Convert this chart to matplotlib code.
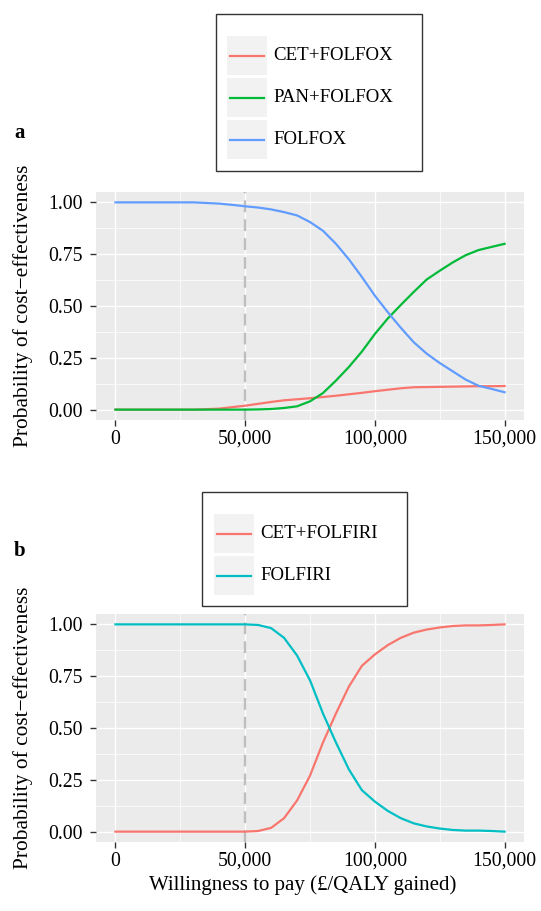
import matplotlib
matplotlib.use("Agg")
import matplotlib.pyplot as plt
from matplotlib.patches import Rectangle
from matplotlib.lines import Line2D
from matplotlib.ticker import FuncFormatter, MultipleLocator

#------------------------- Data ------------------------------
wtp = [0, 5000, 10000, 15000, 20000, 25000, 30000, 35000, 40000, 45000, 50000,
       55000, 60000, 65000, 70000, 75000, 80000, 85000, 90000, 95000, 100000,
       105000, 110000, 115000, 120000, 125000, 130000, 135000, 140000, 145000, 150000]

# panel a
cetFolfox = [0, 0, 0, 0, 0, 0, 0, 0.002, 0.005, 0.012, 0.019,
             0.028, 0.037, 0.045, 0.050, 0.055, 0.061, 0.067, 0.074, 0.081, 0.089,
             0.096, 0.103, 0.108, 0.109, 0.110, 0.111, 0.112, 0.113, 0.113, 0.114]
panFolfox = [0, 0, 0, 0, 0, 0, 0, 0, 0, 0, 0,
             0.001, 0.003, 0.008, 0.016, 0.040, 0.080, 0.140, 0.206, 0.280, 0.365,
             0.440, 0.505, 0.568, 0.628, 0.670, 0.710, 0.745, 0.770, 0.785, 0.800]
folfox = [1.0, 1.0, 1.0, 1.0, 1.0, 1.0, 1.0, 0.997, 0.994, 0.988, 0.981,
          0.975, 0.966, 0.953, 0.937, 0.905, 0.863, 0.800, 0.725, 0.640, 0.550,
          0.470, 0.395, 0.325, 0.270, 0.225, 0.185, 0.145, 0.115, 0.100, 0.084]

# panel b
cetFolfiri = [0, 0, 0, 0, 0, 0, 0, 0, 0, 0, 0,
              0.003, 0.018, 0.065, 0.150, 0.270, 0.430, 0.570, 0.700, 0.800, 0.855,
              0.900, 0.935, 0.960, 0.975, 0.985, 0.992, 0.995, 0.995, 0.997, 1.0]
folfiri = [1.0, 1.0, 1.0, 1.0, 1.0, 1.0, 1.0, 1.0, 1.0, 1.0, 1.0,
           0.997, 0.982, 0.935, 0.850, 0.730, 0.570, 0.430, 0.300, 0.200, 0.145,
           0.100, 0.065, 0.040, 0.025, 0.015, 0.008, 0.005, 0.005, 0.003, 0.0]

labelsA = ["CET+FOLFOX", "PAN+FOLFOX", "FOLFOX"]
labelsB = ["CET+FOLFIRI", "FOLFIRI"]
colorsA = ["#F8766D", "#00BA38", "#619CFF"]
colorsB = ["#F8766D", "#00BFC4"]

threshold = 50000
xTicks = [0, 50000, 100000, 150000]
yTicks = [0, 0.25, 0.5, 0.75, 1.0]

#------------------------- Style ------------------------------
W, H = 541, 911
plt.rcParams['font.family'] = ['Liberation Serif', 'DejaVu Serif']
FS = 14.2

def px(x, y):
    return x / W, 1 - y / H

def styleAxes(ax):
    ax.set_facecolor("#EBEBEB")
    ax.set_xlim(-7500, 157500)
    ax.set_ylim(-0.05, 1.05)
    ax.set_xticks(xTicks)
    ax.set_yticks(yTicks)
    ax.xaxis.set_minor_locator(MultipleLocator(25000))
    ax.yaxis.set_minor_locator(MultipleLocator(0.125))
    ax.xaxis.set_major_formatter(FuncFormatter(lambda v, p: f"{int(v):,}"))
    ax.yaxis.set_major_formatter(FuncFormatter(lambda v, p: f"{v:.2f}"))
    ax.grid(which='major', color='white', linewidth=1.0)
    ax.grid(which='minor', color='white', linewidth=0.5)
    ax.set_axisbelow(True)
    for s in ax.spines.values():
        s.set_visible(False)
    ax.tick_params(which='major', length=4.5, width=1.0, color='#333333',
                   labelsize=FS, labelcolor='black')
    ax.tick_params(axis='x', pad=2.5)
    ax.tick_params(axis='y', pad=5)
    ax.tick_params(which='minor', length=0)
    ax.set_ylabel("Probability of cost\u2212effectiveness", fontsize=15.4)
    ax.yaxis.set_label_coords(-0.147, 0.5)
    ax.axvline(threshold, color='#BEBEBE', linewidth=1.7, dashes=(5, 3), zorder=1.5)

# ggplot-like legend box: white frame, grey key squares, line keys
def drawLegend(fig, lines, labels, box, keyTopLeft):
    x0, y0, x1, y1 = box
    fig.add_artist(Rectangle(px(x0, y1), (x1 - x0) / W, (y1 - y0) / H,
                             transform=fig.transFigure, facecolor='white',
                             edgecolor='#333333', linewidth=1.0, zorder=0))
    kx, ky = keyTopLeft
    keyW, keyH, step = 40, 39, 42
    for i, (ln, lab) in enumerate(zip(lines, labels)):
        top = ky + i * step
        fig.add_artist(Rectangle(px(kx, top + keyH), keyW / W, keyH / H,
                                 transform=fig.transFigure, facecolor='#F2F2F2',
                                 edgecolor='none', zorder=1))
        cy = top + keyH / 2
        fig.add_artist(Line2D([(kx + 3) / W, (kx + keyW - 3) / W], [1 - cy / H] * 2,
                              transform=fig.transFigure, color=ln.get_color(),
                              linewidth=ln.get_linewidth(), zorder=2))
        fig.text((kx + keyW + 6) / W, 1 - cy / H, lab, fontsize=13.6,
                 va='center', ha='left')

fig = plt.figure(figsize=(W / 100, H / 100), dpi=100)

#------------------------- Panel a ------------------------------
axA = fig.add_axes([96 / W, 1 - 420 / H, 428 / W, 228 / H])
styleAxes(axA)
linesA = []
for series, c in zip([cetFolfox, panFolfox, folfox], colorsA):
    ln, = axA.plot(wtp, series, color=c, linewidth=1.6, zorder=3)
    linesA.append(ln)
drawLegend(fig, linesA, labelsA, (216, 14, 422, 171), (227, 36))
fig.text(14 / W, 1 - 133 / H, "a", fontsize=15, fontweight='bold', va='center')

#------------------------- Panel b ------------------------------
axB = fig.add_axes([96 / W, 1 - 842 / H, 428 / W, 228 / H])
styleAxes(axB)
linesB = []
for series, c in zip([cetFolfiri, folfiri], colorsB):
    ln, = axB.plot(wtp, series, color=c, linewidth=1.6, zorder=3)
    linesB.append(ln)
drawLegend(fig, linesB, labelsB, (202, 492, 407, 606), (214, 514))
fig.text(14 / W, 1 - 551 / H, "b", fontsize=15, fontweight='bold', va='center')
axB.set_xlabel("Willingness to pay (\u00a3/QALY gained)", fontsize=15)
axB.xaxis.set_label_coords(0.484, -0.145)

fig.savefig("out.png", dpi=100)
